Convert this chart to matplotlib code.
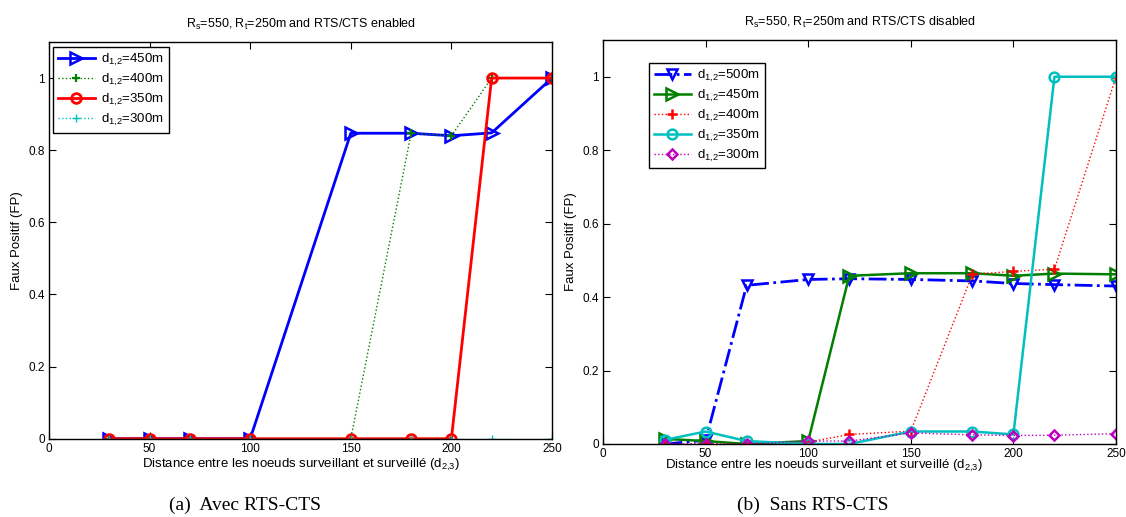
import matplotlib
matplotlib.use("Agg")
import matplotlib.pyplot as plt

plt.rcParams['font.family'] = ['Liberation Sans', 'DejaVu Sans']
plt.rcParams['mathtext.default'] = 'regular'

# (a) avec RTS-CTS
x_a = [30, 50, 70, 100, 150, 180, 200, 220, 250]
a_450 = [0, 0, 0, 0, 0.847, 0.847, 0.84, 0.848, 1.0]
a_400 = [0, 0, 0, 0, 0, 0.847, 0.84, 1.0, 1.0]
a_350 = [0, 0, 0, 0, 0, 0, 0, 1.0, 1.0]
a_300 = [0, 0, 0, 0, 0, 0, 0, 0, 0]

# (b) sans RTS-CTS
x_b = [30, 50, 70, 100, 120, 150, 180, 200, 220, 250]
b_500 = [0.0, 0.01, 0.432, 0.448, 0.45, 0.448, 0.444, 0.437, 0.434, 0.43]
b_450 = [0.014, 0.008, 0.0, 0.008, 0.458, 0.465, 0.465, 0.458, 0.464, 0.462]
b_400 = [0, 0, 0, 0.005, 0.026, 0.035, 0.462, 0.47, 0.476, 1.0]
b_350 = [0.011, 0.034, 0.008, 0, 0, 0.034, 0.034, 0.026, 1.0, 1.0]
b_300 = [0, 0, 0, 0.008, 0.008, 0.03, 0.025, 0.023, 0.024, 0.028]

xticks = [0, 50, 100, 150, 200, 250]
yticks = [0, 0.2, 0.4, 0.6, 0.8, 1]
ytick_labels = ['0', '0.2', '0.4', '0.6', '0.8', '1']

blue = (0, 0, 1)
green = (0, 0.5, 0)
red = (1, 0, 0)
cyan = (0, 0.75, 0.75)
magenta = (0.75, 0, 0.75)

fig = plt.figure(figsize=(11.26, 5.17), dpi=100)
ax1 = fig.add_axes([49/1126, 1 - 438.7/517, 503/1126, 396.7/517])
ax2 = fig.add_axes([603/1126, 1 - 444/517, 513/1126, 404/517])


def lab(d):
    return r'd$_{1{,}2}$=' + d


ax1.plot(x_a, a_450, color=blue, lw=2.0, marker='>', ms=8, mfc='none', mew=1.8, label=lab('450m'))
ax1.plot(x_a, a_400, color=green, lw=1.0, ls=':', marker='+', ms=6, mew=1.6, label=lab('400m'))
ax1.plot(x_a, a_350, color=red, lw=2.0, marker='o', ms=7, mfc='none', mew=2.0, label=lab('350m'))
ax1.plot(x_a, a_300, color=cyan, lw=1.0, ls=':', marker='+', ms=6, mew=1.0, label=lab('300m'))

ax2.plot(x_b, b_500, color=blue, lw=2.0, ls='-.', marker='v', ms=7, mfc='none', mew=1.8, label=lab('500m'))
ax2.plot(x_b, b_450, color=green, lw=1.8, marker='>', ms=8, mfc='none', mew=1.8, label=lab('450m'))
ax2.plot(x_b, b_400, color=red, lw=1.0, ls=':', marker='+', ms=7, mew=1.8, label=lab('400m'))
ax2.plot(x_b, b_350, color=cyan, lw=1.8, marker='o', ms=7, mfc='none', mew=1.8, label=lab('350m'))
ax2.plot(x_b, b_300, color=magenta, lw=1.0, ls=':', marker='D', ms=5.5, mfc='none', mew=1.8, label=lab('300m'))

for ax in (ax1, ax2):
    ax.set_xlim(0, 250)
    ax.set_ylim(0, 1.1)
    ax.set_xticks(xticks)
    ax.set_yticks(yticks)
    ax.set_yticklabels(ytick_labels)
    ax.tick_params(direction='in', top=True, right=True, length=5, labelsize=8.5,
                   width=0.8, pad=3)
    for s in ax.spines.values():
        s.set_linewidth(1.0)
    ax.set_ylabel('Faux Positif (FP)', fontsize=9.5)
    ax.set_xlabel(r'Distance entre les noeuds surveillant et surveillé (d$_{2{,}3}$)', fontsize=9.5)

ax1.yaxis.set_label_coords(-0.052, 0.5)
ax1.xaxis.set_label_coords(0.5, -0.045)
ax2.yaxis.set_label_coords(-0.05, 0.5)
ax2.xaxis.set_label_coords(0.43, -0.035)

ax1.set_title(r'R$_s$=550, R$_t$=250m and RTS/CTS enabled', fontsize=9, pad=10)
ax2.set_title(r'R$_s$=550, R$_t$=250m and RTS/CTS disabled', fontsize=9, pad=10)

leg_kw = dict(fontsize=9.5, fancybox=False, edgecolor='black', framealpha=1,
              handlelength=2.8, labelspacing=0.3, borderaxespad=0, borderpad=0.35,
              handletextpad=0.5)
l1 = ax1.legend(loc='upper left', bbox_to_anchor=(0.008, 0.987), **leg_kw)
l2 = ax2.legend(loc='upper left', bbox_to_anchor=(0.09, 0.943), **leg_kw)
for lg in (l1, l2):
    lg.get_frame().set_linewidth(1.0)

fig.text(245/1126, 1 - 505/517, '(a)  Avec RTS-CTS', family='Liberation Serif',
         fontsize=14, ha='center', va='center')
fig.text(813/1126, 1 - 505/517, '(b)  Sans RTS-CTS', family='Liberation Serif',
         fontsize=14, ha='center', va='center')

fig.savefig('out.png', dpi=100)
